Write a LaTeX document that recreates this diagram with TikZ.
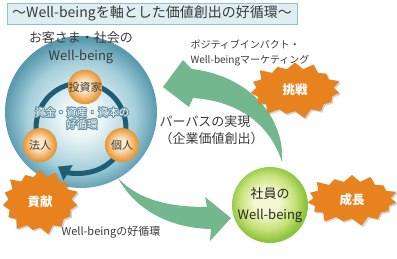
\documentclass[tikz,border=0pt]{standalone}
\usepackage{fontspec}
\setmainfont{Noto Sans CJK JP}
\usepackage{xcolor}
\usepackage[copies]{contour}
\usetikzlibrary{shapes.symbols,shadows,arrows.meta}
\definecolor{titlefill}{HTML}{DDEFF2}
\definecolor{titleline}{HTML}{8CC2CC}
\definecolor{textgray}{HTML}{3A3A3A}
\definecolor{ringblue}{HTML}{1E5E74}
\definecolor{arrowgreen}{HTML}{72B78E}
\definecolor{burstorange}{HTML}{E8821E}
\definecolor{societypale}{HTML}{EEF7F8}
\definecolor{societymid}{HTML}{A4CFDA}
\definecolor{societyedge}{HTML}{5A9AAF}
\definecolor{staffpale}{HTML}{F4F8D0}
\definecolor{staffmid}{HTML}{C8E27A}
\definecolor{staffedge}{HTML}{8CC43E}
\definecolor{orangepale}{HTML}{FDE7C8}
\definecolor{orangeedge}{HTML}{E8922E}
\pgfdeclareradialshading{societyshade}{\pgfpoint{0bp}{-2bp}}{color(0bp)=(societypale); color(6bp)=(societypale); color(18bp)=(societymid); color(25bp)=(societyedge); color(50bp)=(societyedge)}
\pgfdeclareradialshading{staffshade}{\pgfpoint{-3bp}{3bp}}{color(0bp)=(staffpale); color(8bp)=(staffpale); color(18bp)=(staffmid); color(25bp)=(staffedge); color(50bp)=(staffedge)}
\pgfdeclareradialshading{orangeshade}{\pgfpoint{-2bp}{2bp}}{color(0bp)=(orangepale); color(8bp)=(orangepale); color(25bp)=(orangeedge); color(50bp)=(orangeedge)}
\contourlength{0.7pt}
\tikzset{
  orangeball/.style={circle, minimum size=34pt, inner sep=0pt, shading=orangeshade,
    text=textgray, font=\fontsize{11}{11}\selectfont},
  burst/.style={starburst, starburst points=15, starburst point height=9pt,
    fill=burstorange, text=white, font=\bfseries\fontsize{12.5}{12.5}\selectfont,
    drop shadow={shadow xshift=1.5pt, shadow yshift=-1.5pt, opacity=.35}},
  greenarrow/.style={fill=arrowgreen, draw=none}
}

\begin{document}
\begin{tikzpicture}[x=1pt, y=-1pt]
    \useasboundingbox (0,0) rectangle (397,258);
    \node (title) [fill=titlefill, draw=titleline, line width=1pt, minimum width=290pt,
          minimum height=21pt, inner sep=0pt, text=textgray,
          font=\fontsize{14}{14}\selectfont] at (152,13.5)
          {～Well-beingを軸とした価値創出の好循環～};

    % green arrows
    \fill[greenarrow] (282,162) .. controls (285,118) and (250,76) .. (192,69)
      -- (183,60) -- (163,87) -- (189,107) -- (193,98)
      .. controls (238,101) and (270,124) .. (282,162) -- cycle;
    \fill[greenarrow] (118,178) .. controls (135,196) and (160,207) .. (207,207)
      -- (205,197) -- (231,218) -- (210,241) -- (211,229)
      .. controls (165,228) and (133,206) .. (118,178) -- cycle;

    \node (society) [circle, minimum size=152pt, inner sep=0pt, shading=societyshade] at (81,112) {};
    \node (societytop) [text=textgray, font=\fontsize{13}{13}\selectfont] at (81,38) {お客さま・社会の};
    \node (societywb) [text=textgray, font=\fontsize{13}{13}\selectfont] at (81,57) {Well-being};

    \coordinate (ringc) at (81,128);
    \draw[ringblue, line width=5pt, -{Triangle[length=12pt, width=17pt]}]
      (ringc) ++(200:45pt) arc[start angle=200, end angle=-121, radius=45pt];
    \node (investor) [orangeball] at (85,87) {投資家};
    \node (corporate) [orangeball] at (40,145) {法人};
    \node (individual) [orangeball] at (122,145) {個人};
    \node (ringtext) [text=white, font=\fontsize{10.5}{10.5}\selectfont] at (82,113)
          {\contour{ringblue!70}{資金・資産・資本の}};
    \node (ringtext2) [text=white, font=\fontsize{10.5}{10.5}\selectfont] at (82,125)
          {\contour{ringblue!70}{好循環}};

    \node (staff) [circle, minimum size=76pt, inner sep=0pt, shading=staffshade, align=center,
          text=black!85, font=\fontsize{13}{21}\selectfont] at (270,205) {社員の\\Well-being};

    \node (marketing) [anchor=west, align=left, text=textgray, font=\fontsize{10}{15}\selectfont]
          at (187,52.5) {ポジティブインパクト・\\Well-beingマーケティング};
    \node (purpose) [anchor=west, align=left, text=textgray, font=\fontsize{13}{17}\selectfont]
          at (156,130.5) {パーパスの実現\\（企業価値創出）};
    \node (cycle) [text=textgray, font=\fontsize{11}{11}\selectfont] at (111,232) {Well-beingの好循環};

    \node (challenge) [burst, inner xsep=15pt, inner ysep=9pt] at (295,90) {挑戦};
    \node (growth) [burst, inner xsep=15pt, inner ysep=7pt] at (352,200) {成長};
    \node (contribution) [burst, inner xsep=10pt, inner ysep=12pt] at (40,202) {貢献};
\end{tikzpicture}
\end{document}
